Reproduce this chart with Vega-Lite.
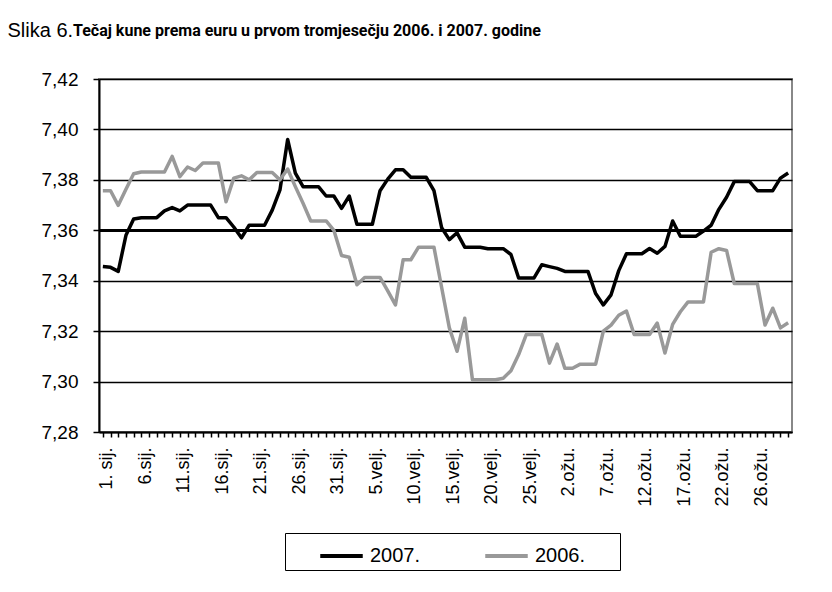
{
  "$schema": "https://vega.github.io/schema/vega-lite/v6.json",
  "autosize": "none",
  "width": 693,
  "height": 353,
  "padding": {"left": 99, "top": 79, "right": 40, "bottom": 160},
  "background": "white",
  "title": {
    "text": "Tečaj kune prema euru u prvom tromjesečju 2006. i 2007. godine",
    "anchor": "start",
    "frame": "group",
    "dx": -26,
    "offset": -19,
    "font": "Roboto",
    "fontSize": 16,
    "fontWeight": "bold",
    "color": "black"
  },
  "data": {
    "values": [
      {"d":1,"g":"2007.","v":7.3456},{"d":2,"g":"2007.","v":7.3453},{"d":3,"g":"2007.","v":7.3437},{"d":4,"g":"2007.","v":7.358},{"d":5,"g":"2007.","v":7.3645},
      {"d":6,"g":"2007.","v":7.365},{"d":7,"g":"2007.","v":7.365},{"d":8,"g":"2007.","v":7.365},{"d":9,"g":"2007.","v":7.3677},{"d":10,"g":"2007.","v":7.369},
      {"d":11,"g":"2007.","v":7.3677},{"d":12,"g":"2007.","v":7.37},{"d":13,"g":"2007.","v":7.37},{"d":14,"g":"2007.","v":7.37},{"d":15,"g":"2007.","v":7.37},
      {"d":16,"g":"2007.","v":7.365},{"d":17,"g":"2007.","v":7.365},{"d":18,"g":"2007.","v":7.3613},{"d":19,"g":"2007.","v":7.357},{"d":20,"g":"2007.","v":7.362},
      {"d":21,"g":"2007.","v":7.362},{"d":22,"g":"2007.","v":7.362},{"d":23,"g":"2007.","v":7.368},{"d":24,"g":"2007.","v":7.376},{"d":25,"g":"2007.","v":7.396},
      {"d":26,"g":"2007.","v":7.3827},{"d":27,"g":"2007.","v":7.3773},{"d":28,"g":"2007.","v":7.3773},{"d":29,"g":"2007.","v":7.3773},{"d":30,"g":"2007.","v":7.3736},
      {"d":31,"g":"2007.","v":7.3736},{"d":32,"g":"2007.","v":7.3687},{"d":33,"g":"2007.","v":7.3736},{"d":34,"g":"2007.","v":7.3624},{"d":35,"g":"2007.","v":7.3624},
      {"d":36,"g":"2007.","v":7.3624},{"d":37,"g":"2007.","v":7.3757},{"d":38,"g":"2007.","v":7.3803},{"d":39,"g":"2007.","v":7.384},{"d":40,"g":"2007.","v":7.384},
      {"d":41,"g":"2007.","v":7.381},{"d":42,"g":"2007.","v":7.381},{"d":43,"g":"2007.","v":7.381},{"d":44,"g":"2007.","v":7.3757},{"d":45,"g":"2007.","v":7.361},
      {"d":46,"g":"2007.","v":7.3563},{"d":47,"g":"2007.","v":7.359},{"d":48,"g":"2007.","v":7.3533},{"d":49,"g":"2007.","v":7.3533},{"d":50,"g":"2007.","v":7.3533},
      {"d":51,"g":"2007.","v":7.3527},{"d":52,"g":"2007.","v":7.3527},{"d":53,"g":"2007.","v":7.3527},{"d":54,"g":"2007.","v":7.3504},{"d":55,"g":"2007.","v":7.3411},
      {"d":56,"g":"2007.","v":7.3411},{"d":57,"g":"2007.","v":7.3411},{"d":58,"g":"2007.","v":7.3463},{"d":59,"g":"2007.","v":7.3456},{"d":60,"g":"2007.","v":7.3449},
      {"d":61,"g":"2007.","v":7.3437},{"d":62,"g":"2007.","v":7.3437},{"d":63,"g":"2007.","v":7.3437},{"d":64,"g":"2007.","v":7.3437},{"d":65,"g":"2007.","v":7.3349},
      {"d":66,"g":"2007.","v":7.3304},{"d":67,"g":"2007.","v":7.3344},{"d":68,"g":"2007.","v":7.344},{"d":69,"g":"2007.","v":7.3507},{"d":70,"g":"2007.","v":7.3507},
      {"d":71,"g":"2007.","v":7.3507},{"d":72,"g":"2007.","v":7.3528},{"d":73,"g":"2007.","v":7.3509},{"d":74,"g":"2007.","v":7.3536},{"d":75,"g":"2007.","v":7.3637},
      {"d":76,"g":"2007.","v":7.3576},{"d":77,"g":"2007.","v":7.3576},{"d":78,"g":"2007.","v":7.3576},{"d":79,"g":"2007.","v":7.3597},{"d":80,"g":"2007.","v":7.362},
      {"d":81,"g":"2007.","v":7.3683},{"d":82,"g":"2007.","v":7.3731},{"d":83,"g":"2007.","v":7.3793},{"d":84,"g":"2007.","v":7.3793},{"d":85,"g":"2007.","v":7.3793},
      {"d":86,"g":"2007.","v":7.3757},{"d":87,"g":"2007.","v":7.3757},{"d":88,"g":"2007.","v":7.3757},{"d":89,"g":"2007.","v":7.3807},{"d":90,"g":"2007.","v":7.3827},
      {"d":1,"g":"2006.","v":7.3757},{"d":2,"g":"2006.","v":7.3757},{"d":3,"g":"2006.","v":7.3699},{"d":4,"g":"2006.","v":7.3763},{"d":5,"g":"2006.","v":7.3824},
      {"d":6,"g":"2006.","v":7.3831},{"d":7,"g":"2006.","v":7.3831},{"d":8,"g":"2006.","v":7.3831},{"d":9,"g":"2006.","v":7.3831},{"d":10,"g":"2006.","v":7.3893},
      {"d":11,"g":"2006.","v":7.3813},{"d":12,"g":"2006.","v":7.3851},{"d":13,"g":"2006.","v":7.3837},{"d":14,"g":"2006.","v":7.3867},{"d":15,"g":"2006.","v":7.3867},
      {"d":16,"g":"2006.","v":7.3867},{"d":17,"g":"2006.","v":7.3713},{"d":18,"g":"2006.","v":7.3807},{"d":19,"g":"2006.","v":7.3816},{"d":20,"g":"2006.","v":7.38},
      {"d":21,"g":"2006.","v":7.3829},{"d":22,"g":"2006.","v":7.3829},{"d":23,"g":"2006.","v":7.3829},{"d":24,"g":"2006.","v":7.38},{"d":25,"g":"2006.","v":7.3843},
      {"d":26,"g":"2006.","v":7.3773},{"d":27,"g":"2006.","v":7.3707},{"d":28,"g":"2006.","v":7.3637},{"d":29,"g":"2006.","v":7.3637},{"d":30,"g":"2006.","v":7.3637},
      {"d":31,"g":"2006.","v":7.36},{"d":32,"g":"2006.","v":7.35},{"d":33,"g":"2006.","v":7.3493},{"d":34,"g":"2006.","v":7.3384},{"d":35,"g":"2006.","v":7.3413},
      {"d":36,"g":"2006.","v":7.3413},{"d":37,"g":"2006.","v":7.3413},{"d":38,"g":"2006.","v":7.336},{"d":39,"g":"2006.","v":7.3304},{"d":40,"g":"2006.","v":7.3483},
      {"d":41,"g":"2006.","v":7.3483},{"d":42,"g":"2006.","v":7.3533},{"d":43,"g":"2006.","v":7.3533},{"d":44,"g":"2006.","v":7.3533},{"d":45,"g":"2006.","v":7.3373},
      {"d":46,"g":"2006.","v":7.3213},{"d":47,"g":"2006.","v":7.312},{"d":48,"g":"2006.","v":7.3251},{"d":49,"g":"2006.","v":7.3007},{"d":50,"g":"2006.","v":7.3007},
      {"d":51,"g":"2006.","v":7.3007},{"d":52,"g":"2006.","v":7.3007},{"d":53,"g":"2006.","v":7.3013},{"d":54,"g":"2006.","v":7.3043},{"d":55,"g":"2006.","v":7.3107},
      {"d":56,"g":"2006.","v":7.3187},{"d":57,"g":"2006.","v":7.3187},{"d":58,"g":"2006.","v":7.3187},{"d":59,"g":"2006.","v":7.3073},{"d":60,"g":"2006.","v":7.3149},
      {"d":61,"g":"2006.","v":7.3053},{"d":62,"g":"2006.","v":7.3053},{"d":63,"g":"2006.","v":7.3069},{"d":64,"g":"2006.","v":7.3069},{"d":65,"g":"2006.","v":7.3069},
      {"d":66,"g":"2006.","v":7.32},{"d":67,"g":"2006.","v":7.3224},{"d":68,"g":"2006.","v":7.3263},{"d":69,"g":"2006.","v":7.328},{"d":70,"g":"2006.","v":7.3187},
      {"d":71,"g":"2006.","v":7.3187},{"d":72,"g":"2006.","v":7.3187},{"d":73,"g":"2006.","v":7.3232},{"d":74,"g":"2006.","v":7.3113},{"d":75,"g":"2006.","v":7.3227},
      {"d":76,"g":"2006.","v":7.3277},{"d":77,"g":"2006.","v":7.3316},{"d":78,"g":"2006.","v":7.3316},{"d":79,"g":"2006.","v":7.3316},{"d":80,"g":"2006.","v":7.3513},
      {"d":81,"g":"2006.","v":7.3527},{"d":82,"g":"2006.","v":7.352},{"d":83,"g":"2006.","v":7.3389},{"d":84,"g":"2006.","v":7.3389},{"d":85,"g":"2006.","v":7.3389},
      {"d":86,"g":"2006.","v":7.3389},{"d":87,"g":"2006.","v":7.3224},{"d":88,"g":"2006.","v":7.3291},{"d":89,"g":"2006.","v":7.3213},{"d":90,"g":"2006.","v":7.3233}
    ]
  },
  "mark": {"type": "line", "strokeWidth": 3.5, "strokeJoin": "round"},
  "encoding": {
    "x": {
      "field": "d",
      "type": "ordinal",
      "scale": {"paddingInner": 0, "paddingOuter": 0},
      "axis": {
        "title": null,
        "bandPosition": 0,
        "labelOffset": 3.85,
        "labelAngle": 270,
        "labelAlign": "right",
        "labelBaseline": "middle",
        "labelOverlap": false,
        "labelPadding": 10,
        "labelFont": "Liberation Sans",
        "labelFontSize": 18,
        "labelColor": "black",
        "tickSize": 5,
        "tickColor": "black",
        "tickWidth": 1.5,
        "domainColor": "black",
        "domainWidth": 2,
        "grid": false,
        "labelExpr": "(datum.value - 1) % 5 == 0 ? ['1. sij.','6.sij.','11.sij.','16.sij.','21.sij.','26.sij.','31.sij.','5.velj.','10.velj.','15.velj.','20.velj.','25.velj.','2.ožu.','7.ožu.','12.ožu.','17.ožu.','22.ožu.','26.ožu.'][(datum.value - 1) / 5] : ''"
      }
    },
    "y": {
      "field": "v",
      "type": "quantitative",
      "scale": {"domain": [7.28, 7.42], "zero": false, "nice": false},
      "axis": {
        "title": "Slika 6.",
        "titleAngle": 0,
        "titleAlign": "left",
        "titleBaseline": "alphabetic",
        "titleX": -92,
        "titleY": -43,
        "titleFont": "Liberation Sans",
        "titleFontSize": 20,
        "titleFontWeight": "normal",
        "titleColor": "black",
        "values": [7.28, 7.30, 7.32, 7.34, 7.36, 7.38, 7.40, 7.42],
        "labelExpr": "replace(format(datum.value, '.2f'), '.', ',')",
        "labelFont": "Liberation Sans",
        "labelFontSize": 19,
        "labelColor": "black",
        "labelPadding": 15,
        "tickSize": 6,
        "tickColor": "black",
        "tickWidth": 1.5,
        "domainColor": "black",
        "domainWidth": 2,
        "grid": true,
        "gridColor": "black",
        "gridWidth": {"condition": {"test": "abs(datum.value - 7.36) < 0.001", "value": 3}, "value": 1.5},
        "gridOpacity": 1
      }
    },
    "color": {
      "field": "g",
      "type": "nominal",
      "sort": ["2007.", "2006."],
      "scale": {"domain": ["2007.", "2006."], "range": ["#000000", "#999999"]},
      "legend": {
        "title": null,
        "orient": "none",
        "legendX": 186,
        "legendY": 454,
        "direction": "horizontal",
        "symbolType": "M-1.25,0H1.25",
        "symbolSize": 1156,
        "symbolStrokeWidth": 4,
        "symbolOffset": 33.5,
        "labelFont": "Liberation Sans",
        "labelFontSize": 20,
        "labelColor": "black",
        "labelOffset": 9.5,
        "columnPadding": 3,
        "padding": 4,
        "strokeColor": "black",
        "labelExpr": "datum.label + '\u2800\u2800'"
      }
    },
    "order": {"field": "g", "type": "nominal"}
  },
  "config": {
    "view": {"stroke": "#888888", "strokeWidth": 2}
  }
}
